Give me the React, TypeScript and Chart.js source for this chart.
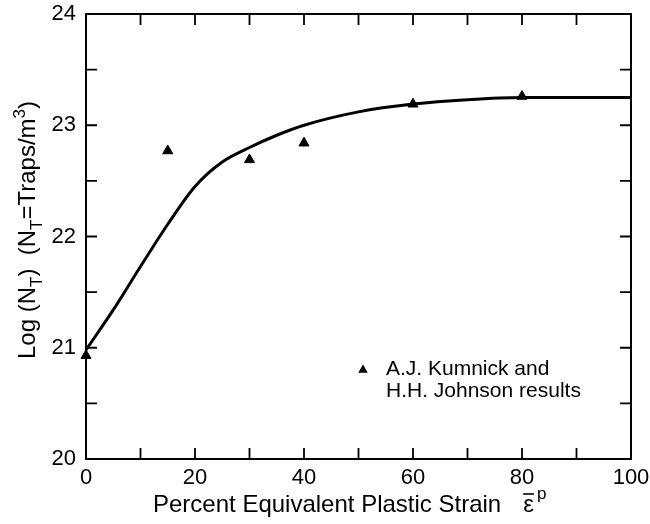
import React, { useEffect, useRef } from 'react';
import { Chart, registerables } from 'chart.js';

Chart.register(...registerables);

// Smooth fitted curve (strain %, log N_T)
const curveStrain = [0, 5, 10, 15, 20, 25, 30, 35, 40, 50, 60, 70, 80, 90, 100];
const curveLogNT = [20.98, 21.34, 21.73, 22.11, 22.45, 22.67, 22.8, 22.91, 23.0, 23.12, 23.19, 23.23, 23.25, 23.25, 23.25];

// Kumnick & Johnson measured points
const pointStrain = [0, 15, 30, 40, 60, 80];
const pointLogNT = [20.93, 22.77, 22.69, 22.84, 23.19, 23.26];

// Tick labels
const xTickLabels = [0, 20, 40, 60, 80, 100];
const yTickLabels = [20, 21, 22, 23, 24];

const legendLines = ['A.J. Kumnick and', 'H.H. Johnson results'];

const FONT = '"Liberation Sans", Arial, Helvetica, sans-serif';

type Part = { t: string; k: 'n' | 'sub' | 'sup' };

function drawRich(ctx: CanvasRenderingContext2D, parts: Part[], x: number, y: number, size: number, center: boolean) {
  const small = Math.round(size * 0.7);
  const fontFor = (k: string) => `${k === 'n' ? size : small}px ${FONT}`;
  let total = 0;
  parts.forEach((p) => {
    ctx.font = fontFor(p.k);
    total += ctx.measureText(p.t).width;
  });
  let cx = center ? x - total / 2 : x;
  parts.forEach((p) => {
    ctx.font = fontFor(p.k);
    const dy = p.k === 'sub' ? size * 0.28 : p.k === 'sup' ? -size * 0.42 : 0;
    ctx.fillText(p.t, cx, y + dy);
    cx += ctx.measureText(p.t).width;
  });
  return total;
}

const decorPlugin = {
  id: 'decor',
  beforeDatasetsDraw(chart: any) {
    const { ctx, chartArea: a, scales } = chart;
    ctx.save();
    ctx.strokeStyle = '#000';
    ctx.lineWidth = 2;
    ctx.strokeRect(a.left, a.top, a.right - a.left, a.bottom - a.top);
    const L = 11;
    ctx.lineWidth = 1.8;
    ctx.beginPath();
    scales.x.ticks.forEach((t: any) => {
      const p = scales.x.getPixelForValue(t.value);
      if (p <= a.left + 1 || p >= a.right - 1) return;
      ctx.moveTo(p, a.bottom);
      ctx.lineTo(p, a.bottom - L);
      ctx.moveTo(p, a.top);
      ctx.lineTo(p, a.top + L);
    });
    scales.y.ticks.forEach((t: any) => {
      const p = scales.y.getPixelForValue(t.value);
      if (p <= a.top + 1 || p >= a.bottom - 1) return;
      ctx.moveTo(a.left, p);
      ctx.lineTo(a.left + L, p);
      ctx.moveTo(a.right, p);
      ctx.lineTo(a.right - L, p);
    });
    ctx.stroke();
    ctx.restore();
  },
  afterDraw(chart: any) {
    const { ctx, chartArea: a } = chart;
    ctx.save();
    ctx.fillStyle = '#000';
    ctx.strokeStyle = '#000';
    ctx.textBaseline = 'alphabetic';
    ctx.textAlign = 'left';

    // Y axis title (rotated)
    ctx.save();
    ctx.translate(35, 230);
    ctx.rotate(-Math.PI / 2);
    drawRich(
      ctx,
      [
        { t: 'Log (N', k: 'n' },
        { t: 'T', k: 'sub' },
        { t: ')  (N', k: 'n' },
        { t: 'T', k: 'sub' },
        { t: '=Traps/m', k: 'n' },
        { t: '3', k: 'sup' },
        { t: ')', k: 'n' },
      ],
      0,
      0,
      24,
      true
    );
    ctx.restore();

    // X axis title
    const xTitleLeft = 153;
    const xBase = 512;
    ctx.font = `24px ${FONT}`;
    const w = drawRich(ctx, [{ t: 'Percent Equivalent Plastic Strain', k: 'n' }], xTitleLeft, xBase, 24, false);
    const ex = xTitleLeft + w + 22;
    ctx.font = `24px ${FONT}`;
    ctx.fillText('ε', ex, xBase);
    const ew = ctx.measureText('ε').width;
    ctx.lineWidth = 1.6;
    ctx.beginPath();
    ctx.moveTo(ex, xBase - 18);
    ctx.lineTo(ex + ew, xBase - 18);
    ctx.stroke();
    ctx.font = `17px ${FONT}`;
    ctx.fillText('p', ex + ew + 3, xBase - 13);

    // Legend
    const lx = 363;
    const ly = 370;
    const r = 5.5;
    ctx.beginPath();
    ctx.moveTo(lx, ly - r);
    ctx.lineTo(lx + r * 0.866, ly + r * 0.5);
    ctx.lineTo(lx - r * 0.866, ly + r * 0.5);
    ctx.closePath();
    ctx.fill();
    ctx.font = `21px ${FONT}`;
    ctx.fillText(legendLines[0], 386, 375);
    ctx.fillText(legendLines[1], 386, 397);
    ctx.restore();
  },
};

export default function App() {
  const ref = useRef<HTMLCanvasElement>(null);
  useEffect(() => {
    if (!ref.current) return;
    const chart = new Chart(ref.current, {
      type: 'scatter',
      data: {
        datasets: [
          {
            type: 'line',
            label: 'Model',
            data: curveStrain.map((x, i) => ({ x, y: curveLogNT[i] })),
            borderColor: '#000',
            borderWidth: 3,
            pointRadius: 0,
            cubicInterpolationMode: 'monotone',
            fill: false,
          } as any,
          {
            label: legendLines.join(' '),
            data: pointStrain.map((x, i) => ({ x, y: pointLogNT[i] })),
            pointStyle: 'triangle',
            pointRadius: 5.8,
            backgroundColor: '#000',
            borderColor: '#000',
            borderWidth: 1,
            showLine: false,
            clip: false,
          } as any,
        ],
      },
      options: {
        responsive: false,
        animation: false,
        layout: { padding: { top: 14, right: 19, left: 0, bottom: 0 } },
        plugins: { legend: { display: false }, tooltip: { enabled: false } },
        scales: {
          x: {
            type: 'linear',
            min: 0,
            max: 100,
            ticks: {
              stepSize: 10,
              autoSkip: false,
              maxRotation: 0,
              padding: 6,
              color: '#000',
              font: { family: FONT, size: 22 },
              callback: (v: any) => (xTickLabels.includes(Number(v)) ? String(v) : ''),
            },
            grid: { display: false, drawTicks: false },
            border: { display: false },
            afterFit: (s: any) => {
              s.height = 65;
              s.paddingLeft = 0;
              s.paddingRight = 0;
            },
          },
          y: {
            type: 'linear',
            min: 20,
            max: 24,
            ticks: {
              stepSize: 0.5,
              autoSkip: false,
              padding: 10,
              color: '#000',
              font: { family: FONT, size: 22 },
              callback: (v: any) => (yTickLabels.includes(Number(v)) ? String(v) : ''),
            },
            grid: { display: false, drawTicks: false },
            border: { display: false },
            afterFit: (s: any) => {
              s.width = 86;
              s.paddingTop = 0;
              s.paddingBottom = 0;
            },
          },
        },
      },
      plugins: [decorPlugin],
    });
    return () => chart.destroy();
  }, []);
  return (
    <div style={{ position: 'fixed', left: 0, top: 0, width: 650, height: 524, background: '#fff' }}>
      <canvas ref={ref} width={650} height={524} style={{ display: 'block' }} />
    </div>
  );
}
